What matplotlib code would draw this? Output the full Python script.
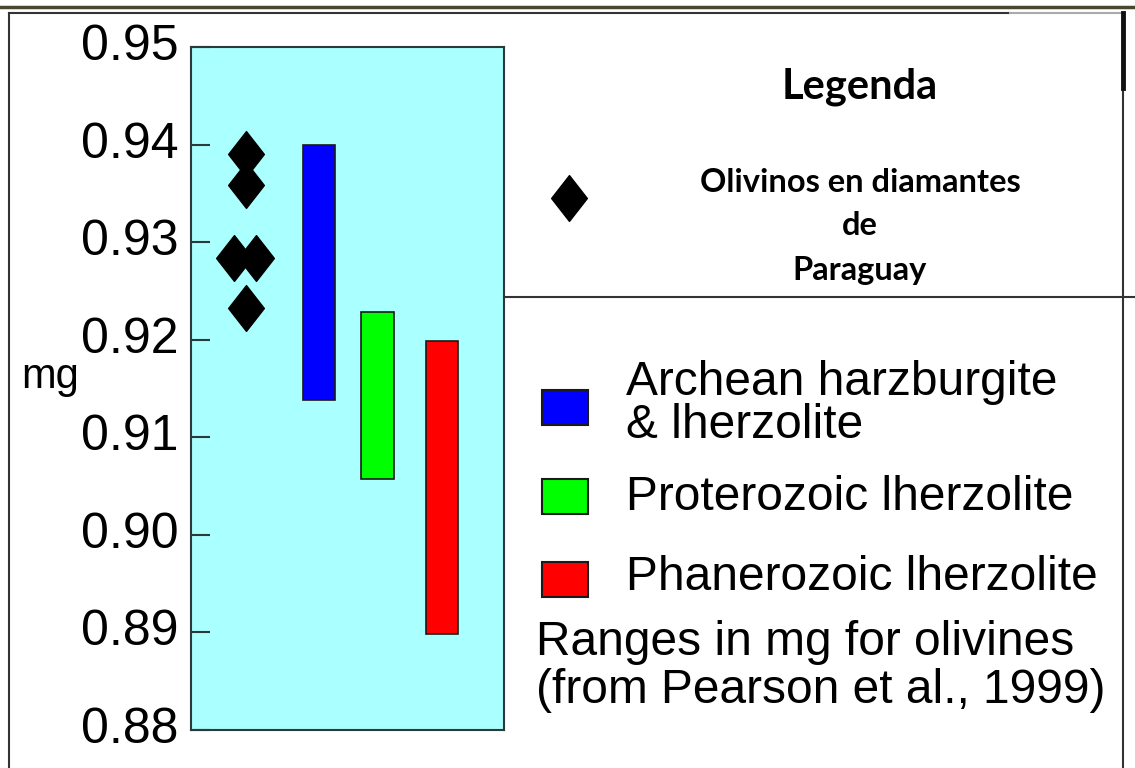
import matplotlib.pyplot as plt
from matplotlib.lines import Line2D
from matplotlib.patches import Rectangle
from matplotlib.path import Path
from matplotlib.transforms import ScaledTranslation

# data
diamond_x = [1.75, 1.75, 1.37, 2.08, 1.75]
diamond_mg = [0.9390, 0.9359, 0.9284, 0.9284, 0.9232]

range_names = [['Archean harzburgite', '& lherzolite'], ['Proterozoic lherzolite'],
               ['Phanerozoic lherzolite']]
range_x = [4.09, 5.97, 8.02]
range_low = [0.9138, 0.9057, 0.8898]
range_high = [0.9400, 0.9228, 0.9199]
range_colors = ['#0000ff', '#00ff00', '#ff0000']

yticks = [0.88, 0.89, 0.90, 0.91, 0.92, 0.93, 0.94, 0.95]

W, H = 1135, 768
plt.rcParams['font.family'] = ['Liberation Sans', 'DejaVu Sans']
fig = plt.figure(figsize=(W / 100, H / 100), dpi=100)

def fx(px):
    return px / W

def fy(py):
    return 1 - py / H

# diamond shape, a bit taller than wide
diamond = Path([(0, 1), (0.78, 0), (0, -1), (-0.78, 0), (0, 1)],
               [Path.MOVETO, Path.LINETO, Path.LINETO, Path.LINETO, Path.CLOSEPOLY])

# main plot box
ax = fig.add_axes([fx(191), fy(730), fx(504) - fx(191), fy(47) - fy(730)])
ax.set_facecolor('#aaffff')
ax.set_xlim(0, 10)
ax.set_ylim(0.88, 0.95)
for s in ax.spines.values():
    s.set_color('#2a3a3a')
    s.set_linewidth(1.5)

ax.bar(range_x, [h - l for h, l in zip(range_high, range_low)], bottom=range_low,
       width=1.05, color=range_colors, edgecolor='#1a1a1a', linewidth=1.2)
ax.plot(diamond_x, diamond_mg, linestyle='none', marker=diamond, markersize=33,
        color='black')

ax.set_xticks([])
ax.set_yticks(yticks)
ax.set_yticklabels(['%.2f' % t for t in yticks])
ax.tick_params(axis='y', direction='in', length=14, width=1.5, color='#2a3a3a',
               labelsize=36, pad=9)
# labels sit a little above their ticks in the original
shift = ScaledTranslation(0, 5 / 100, fig.dpi_scale_trans)
for lab in ax.get_yticklabels():
    lab.set_transform(lab.get_transform() + shift)
fig.text(fx(21), fy(388), 'mg', fontsize=30, ha='left', va='baseline')

# frame lines around the slide
lines = [
    ([0, W], [7, 7], '#4a4530', 2.5),
    ([9, 1010], [13, 13], '#333333', 1.5),
    ([1010, 1123], [13, 13], '#aaaaaa', 1.5),
    ([9, 9], [13, H], '#333333', 1.5),
    ([1123, 1123], [13, H], '#333333', 1.5),
    ([1123, 1123], [13, 88], '#111111', 3.5),
    ([504, W], [297, 297], '#333333', 1.5),
]
for xs, ys, c, lw in lines:
    fig.add_artist(Line2D([fx(v) for v in xs], [fy(v) for v in ys], color=c, lw=lw,
                          transform=fig.transFigure))

# upper legend
bold = ['Lato', 'DejaVu Sans']
fig.text(fx(860), fy(99), 'Legenda', fontsize=30, fontweight='bold', family=bold,
         ha='center', va='baseline')
fig.text(fx(860), fy(192), 'Olivinos en diamantes', fontsize=23.5, fontweight='bold',
         family=bold, ha='center', va='baseline')
fig.text(fx(860), fy(235), 'de', fontsize=23.5, fontweight='bold', family=bold,
         ha='center', va='baseline')
fig.text(fx(860), fy(280), 'Paraguay', fontsize=23.5, fontweight='bold', family=bold,
         ha='center', va='baseline')
fig.add_artist(Line2D([fx(569)], [fy(198)], marker=diamond, markersize=33, color='black',
                      linestyle='none', transform=fig.transFigure))

# lower legend
patch_top = [390, 479, 562]
text_base = [[395, 438], [510], [590]]
for name, c, pt, tb in zip(range_names, range_colors, patch_top, text_base):
    fig.add_artist(Rectangle((fx(542), fy(pt + 35)), fx(46), 35 / H, facecolor=c,
                             edgecolor='#1a1a1a', lw=1.5, transform=fig.transFigure))
    for line, b in zip(name, tb):
        fig.text(fx(626), fy(b), line, fontsize=34.5, ha='left', va='baseline')
fig.text(fx(536), fy(655), 'Ranges in mg for olivines', fontsize=34.5, ha='left',
         va='baseline')
fig.text(fx(536), fy(703), '(from Pearson et al., 1999)', fontsize=34.5, ha='left',
         va='baseline')

fig.savefig('out.png', dpi=100)
